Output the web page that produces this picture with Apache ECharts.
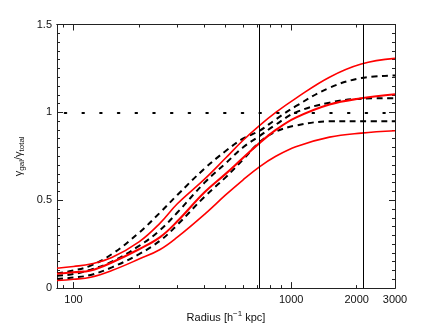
<!DOCTYPE html>
<html><head><meta charset="utf-8">
<script src="https://cdn.jsdelivr.net/npm/echarts@6/dist/echarts.min.js"></script>
<style>html,body{margin:0;padding:0;background:#fff}#c{width:436px;height:328px}</style>
</head><body><div id="c"></div>
<script>
// Radius samples (h^-1 kpc)
const radius = [84, 100, 120, 150, 200, 250, 300, 400, 500, 600, 715, 850, 1050, 1500, 2100, 3000];
// red solid curves
const redUpper  = [0.113, 0.123, 0.137, 0.174, 0.263, 0.37, 0.48, 0.62, 0.74, 0.84, 0.925, 1.0, 1.08, 1.20, 1.275, 1.307];
const redMiddle = [0.082, 0.090, 0.100, 0.146, 0.221, 0.29, 0.38, 0.545, 0.65, 0.74, 0.825, 0.90, 0.97, 1.045, 1.08, 1.103];
const redLower  = [0.043, 0.050, 0.062, 0.100, 0.165, 0.22, 0.29, 0.42, 0.53, 0.615, 0.69, 0.75, 0.805, 0.859, 0.882, 0.895];
// black dashed curves
const dashUpper  = [0.085, 0.100, 0.128, 0.193, 0.315, 0.43, 0.53, 0.68, 0.78, 0.85, 0.895, 0.96, 1.035, 1.14, 1.195, 1.21];
const dashMiddle = [0.070, 0.080, 0.105, 0.150, 0.240, 0.33, 0.43, 0.60, 0.71, 0.80, 0.865, 0.93, 1.0, 1.055, 1.078, 1.081];
const dashLower  = [0.052, 0.060, 0.075, 0.118, 0.193, 0.27, 0.36, 0.52, 0.63, 0.73, 0.83, 0.89, 0.925, 0.949, 0.95, 0.95];
// reference lines
const verticalLines = [715, 2150];
const unityLevel = 1;
// axis ticks / labels
const xLabelValues = [100, 1000, 2000, 3000];
const xMajorTicks = [100, 1000];
const xMinorTicks = [90, 200, 300, 400, 500, 600, 700, 800, 900, 2000, 3000];
const xMin = 84, xMax = 3000;
const yMin = 0, yMax = 1.5, yStep = 0.5;

const pairs = v => radius.map((r, i) => [r, v[i]]);
const FONT = "'Liberation Sans', Arial, sans-serif";
const frame = '#222';

function xAx(position, ticks, len, labels) {
  return {
    type: 'log', gridIndex: 0, position: position, min: xMin, max: xMax, logBase: 10,
    axisLine: { show: true, lineStyle: { color: frame, width: 1 } },
    axisTick: { show: true, inside: true, length: len, customValues: ticks, lineStyle: { color: frame } },
    axisLabel: labels ? { show: true, customValues: labels, formatter: v => String(Math.round(v)), color: '#111', fontFamily: FONT, fontSize: 11, margin: 6 } : { show: false },
    splitLine: { show: false }, minorTick: { show: false }, minorSplitLine: { show: false }
  };
}

const lineCommon = { smooth: 0.4, showSymbol: false, symbol: 'none' };

const chart = echarts.init(document.getElementById('c'), null, { renderer: 'canvas' });
chart.setOption({
  animation: false,
  backgroundColor: '#fff',
  grid: { left: 57, right: 41, top: 24.5, bottom: 37, containLabel: false },
  xAxis: [
    Object.assign(xAx('bottom', xMajorTicks, 6, xLabelValues), {
      name: 'Radius [h{sup|−1} kpc]', nameLocation: 'middle', nameGap: 18,
      nameTextStyle: { color: '#111', fontFamily: FONT, fontSize: 11,
        rich: { sup: { fontSize: 8, verticalAlign: 'bottom', padding: [0, 0, 7, 0], fontFamily: FONT, color: '#111' } } }
    }),
    xAx('bottom', xMinorTicks, 3, null),
    xAx('top', xMajorTicks, 6, null),
    xAx('top', xMinorTicks, 3, null)
  ],
  yAxis: [
    { type: 'value', position: 'left', min: yMin, max: yMax, interval: yStep,
      name: 'γ{sub|gal}/γ{sub|total}', nameLocation: 'middle', nameGap: 19, nameRotate: 90,
      nameTextStyle: { color: '#111', fontFamily: FONT, fontSize: 11,
        rich: { sub: { fontSize: 8, verticalAlign: 'top', padding: [6, 0, 0, 0], fontFamily: FONT, color: '#111' } } },
      axisLine: { show: true, lineStyle: { color: frame } },
      axisTick: { show: true, inside: true, length: 6, lineStyle: { color: frame } },
      minorTick: { show: true, splitNumber: 10, length: 3, lineStyle: { color: frame } },
      axisLabel: { color: '#111', fontFamily: FONT, fontSize: 11, margin: 5 },
      splitLine: { show: false } },
    { type: 'value', position: 'right', min: yMin, max: yMax, interval: yStep,
      axisLine: { show: true, lineStyle: { color: frame } },
      axisTick: { show: true, inside: true, length: 6, lineStyle: { color: frame } },
      minorTick: { show: true, splitNumber: 10, length: 3, lineStyle: { color: frame } },
      axisLabel: { show: false }, splitLine: { show: false } }
  ],
  series: [
    { type: 'line', name: 'refs', data: [], xAxisIndex: 0, yAxisIndex: 0, silent: true,
      markLine: { silent: true, symbol: ['none', 'none'], label: { show: false }, animation: false,
        data: [
          ...verticalLines.map(v => ({ xAxis: v, lineStyle: { color: '#000', width: 1, type: 'solid' } })),
          { yAxis: unityLevel, lineStyle: { color: '#000', width: 2, type: [1.6, 16.1], dashOffset: 10, cap: 'round' } }
        ] } },
    Object.assign({ type: 'line', data: pairs(dashUpper), lineStyle: { color: '#000', width: 2, type: [6, 4.5] } }, lineCommon),
    Object.assign({ type: 'line', data: pairs(dashMiddle), lineStyle: { color: '#000', width: 2, type: [6, 4.5] } }, lineCommon),
    Object.assign({ type: 'line', data: pairs(dashLower), lineStyle: { color: '#000', width: 2, type: [6, 4.5] } }, lineCommon),
    Object.assign({ type: 'line', data: pairs(redUpper), lineStyle: { color: '#ff0000', width: 1.6 } }, lineCommon),
    Object.assign({ type: 'line', data: pairs(redMiddle), lineStyle: { color: '#ff0000', width: 2.1 } }, lineCommon),
    Object.assign({ type: 'line', data: pairs(redLower), lineStyle: { color: '#ff0000', width: 1.6 } }, lineCommon)
  ]
});
</script>
</body></html>
